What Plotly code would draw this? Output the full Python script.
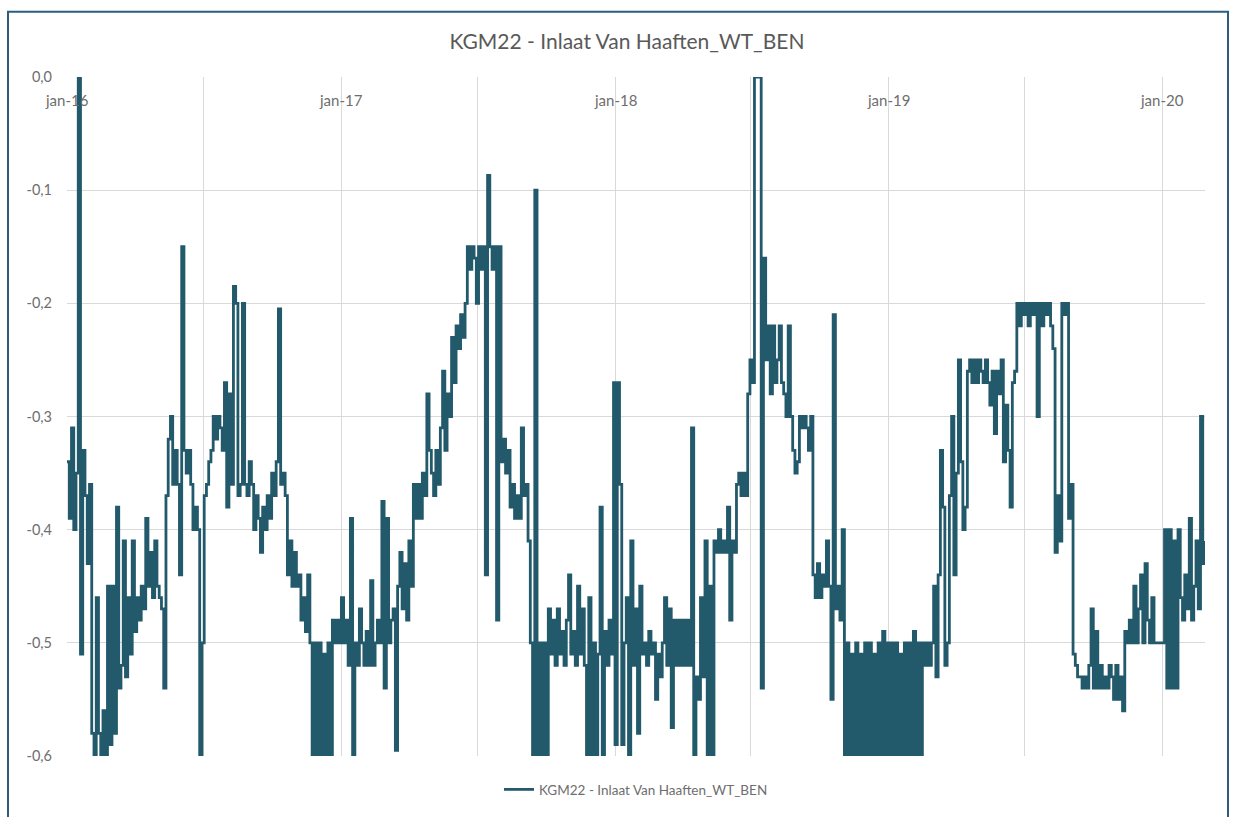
import pandas as pd
import plotly.graph_objects as go

# Water level readings (m), one value every 3 days, starting 1 January of each year
vals_2016 = [
    -0.34, -0.39, -0.31, -0.40, -0.35, 0.0, -0.51, -0.33, -0.37, -0.43,
    -0.36, -0.58, -0.60, -0.46, -0.58, -0.60, -0.56, -0.60, -0.45, -0.59,
    -0.45, -0.58, -0.38, -0.54, -0.52, -0.41, -0.53, -0.46, -0.51, -0.41,
    -0.49, -0.46, -0.48, -0.45, -0.47, -0.39, -0.45, -0.42, -0.46, -0.41,
    -0.45, -0.46, -0.47, -0.54, -0.37, -0.32, -0.30, -0.36, -0.33, -0.36,
    -0.44, -0.15, -0.33, -0.35, -0.33, -0.36, -0.40, -0.38, -0.40, -0.60,
    -0.50, -0.37, -0.36, -0.34, -0.33, -0.30, -0.32, -0.30, -0.31, -0.33,
    -0.27, -0.38, -0.28, -0.36, -0.185, -0.20, -0.37, -0.36, -0.20, -0.36,
    -0.37, -0.34, -0.36, -0.40, -0.37, -0.39, -0.42, -0.38, -0.40, -0.37,
    -0.39, -0.35, -0.37, -0.34, -0.205, -0.36, -0.35, -0.37, -0.44, -0.41,
    -0.45, -0.42, -0.45, -0.44, -0.48, -0.46, -0.49, -0.44, -0.50, -0.60,
    -0.50, -0.60, -0.50, -0.60, -0.51, -0.60, -0.50, -0.60, -0.48, -0.50,
    -0.48, -0.50,
]
vals_2017 = [
    -0.46, -0.50, -0.48, -0.52, -0.39, -0.60, -0.50, -0.52, -0.47, -0.50,
    -0.52, -0.49, -0.52, -0.445, -0.52, -0.50, -0.48, -0.50, -0.375, -0.54,
    -0.39, -0.50, -0.48, -0.47, -0.595, -0.45, -0.42, -0.47, -0.43, -0.48,
    -0.41, -0.45, -0.36, -0.39, -0.36, -0.39, -0.35, -0.37, -0.28, -0.33,
    -0.35, -0.37, -0.33, -0.36, -0.31, -0.26, -0.33, -0.28, -0.30, -0.23,
    -0.27, -0.22, -0.24, -0.21, -0.23, -0.20, -0.15, -0.17, -0.15, -0.16,
    -0.20, -0.15, -0.17, -0.15, -0.44, -0.087, -0.15, -0.17, -0.15, -0.48,
    -0.15, -0.34, -0.32, -0.35, -0.33, -0.38, -0.36, -0.39, -0.37, -0.39,
    -0.31, -0.37, -0.36, -0.41, -0.50, -0.60, -0.10, -0.60, -0.50, -0.60,
    -0.50, -0.60, -0.47, -0.51, -0.48, -0.52, -0.47, -0.51, -0.49, -0.52,
    -0.48, -0.44, -0.51, -0.49, -0.52, -0.45, -0.51, -0.47, -0.52, -0.60,
    -0.46, -0.60, -0.50, -0.60, -0.51, -0.38, -0.60, -0.49, -0.52, -0.48,
    -0.51, -0.27,
]
vals_2018 = [
    -0.59, -0.27, -0.36, -0.59, -0.50, -0.46, -0.60, -0.41, -0.52, -0.47,
    -0.58, -0.45, -0.51, -0.50, -0.52, -0.49, -0.51, -0.50, -0.55, -0.51,
    -0.53, -0.50, -0.46, -0.52, -0.47, -0.575, -0.48, -0.52, -0.48, -0.52,
    -0.48, -0.52, -0.48, -0.52, -0.31, -0.60, -0.53, -0.55, -0.46, -0.53,
    -0.41, -0.60, -0.45, -0.60, -0.41, -0.42, -0.40, -0.42, -0.41, -0.42,
    -0.38, -0.48, -0.41, -0.42, -0.36, -0.35, -0.37, -0.35, -0.37, -0.28,
    -0.25, -0.27, 0.0, 0.0, 0.0, -0.54, -0.16, -0.25, -0.22, -0.28,
    -0.22, -0.27, -0.25, -0.22, -0.27, -0.28, -0.30, -0.22, -0.30, -0.33,
    -0.35, -0.34, -0.30, -0.31, -0.30, -0.31, -0.33, -0.30, -0.44, -0.46,
    -0.43, -0.46, -0.44, -0.45, -0.41, -0.45, -0.55, -0.21, -0.47, -0.45,
    -0.48, -0.40, -0.60, -0.50, -0.60, -0.51, -0.60, -0.50, -0.60, -0.51,
    -0.60, -0.50, -0.60, -0.50, -0.60, -0.51, -0.60, -0.50, -0.60, -0.49,
    -0.60, -0.50,
]
vals_2019 = [
    -0.60, -0.50, -0.60, -0.50, -0.60, -0.51, -0.60, -0.50, -0.60, -0.50,
    -0.60, -0.49, -0.60, -0.50, -0.60, -0.50, -0.52, -0.50, -0.52, -0.50,
    -0.45, -0.53, -0.44, -0.33, -0.38, -0.52, -0.50, -0.37, -0.30, -0.44,
    -0.35, -0.25, -0.34, -0.40, -0.38, -0.26, -0.25, -0.27, -0.25, -0.27,
    -0.25, -0.26, -0.27, -0.25, -0.27, -0.29, -0.26, -0.315, -0.26, -0.28,
    -0.25, -0.34, -0.29, -0.33, -0.38, -0.27, -0.26, -0.20, -0.22, -0.20,
    -0.21, -0.20, -0.22, -0.20, -0.21, -0.20, -0.30, -0.20, -0.22, -0.20,
    -0.21, -0.20, -0.22, -0.24, -0.42, -0.37, -0.41, -0.20, -0.21, -0.20,
    -0.39, -0.36, -0.51, -0.52, -0.53, -0.53, -0.54, -0.53, -0.54, -0.52,
    -0.47, -0.54, -0.49, -0.54, -0.52, -0.54, -0.53, -0.54, -0.52, -0.53,
    -0.55, -0.52, -0.55, -0.53, -0.56, -0.49, -0.50, -0.48, -0.50, -0.45,
    -0.50, -0.47, -0.44, -0.50, -0.43, -0.48, -0.50, -0.46, -0.50, -0.50,
    -0.50, -0.50,
]
vals_2020 = [
    -0.50, -0.40, -0.54, -0.40, -0.54, -0.41, -0.54, -0.40, -0.46, -0.48,
    -0.44, -0.47, -0.39, -0.48, -0.45, -0.41, -0.47, -0.30, -0.43, -0.41,
]

series_by_year = {
    2016: vals_2016,
    2017: vals_2017,
    2018: vals_2018,
    2019: vals_2019,
    2020: vals_2020,
}

series_name = "KGM22 - Inlaat Van Haaften_WT_BEN"

# Axis ticks
x_tick_dates = ["2016-01-01", "2017-01-01", "2018-01-01", "2019-01-01", "2020-01-01"]
x_tick_labels = ["jan-16", "jan-17", "jan-18", "jan-19", "jan-20"]
x_mid_dates = ["2016-07-01", "2017-07-01", "2018-07-01", "2019-07-01"]
y_ticks = [0.0, -0.1, -0.2, -0.3, -0.4, -0.5, -0.6]
y_tick_labels = ["0,0", "-0,1", "-0,2", "-0,3", "-0,4", "-0,5", "-0,6"]

dates = []
values = []
for year, vals in series_by_year.items():
    dates.extend(pd.date_range(f"{year}-01-01", periods=len(vals), freq="3D"))
    values.extend(vals)

line_color = "#22596b"
grid_color = "#d9d9d9"
title_color = "#595959"
label_color = "#6e6e6e"
font_family = "Lato, 'Open Sans', sans-serif"

fig = go.Figure()
fig.add_trace(go.Scatter(
    x=dates, y=values, mode="lines", name=series_name,
    line=dict(color=line_color, width=2.8, shape="hv"),
))

W, H = 1238, 817
L, R, T, B = 67, 33, 77, 53
pw, ph = W - L - R, H - T - B

def px_x(x):
    return (x - L) / pw

def px_y(y):
    return (H - B - y) / ph

# Month labels sit just under the top edge of the plot, one per January
x_label_annotations = [
    dict(x=d, xref="x", y=px_y(100), yref="paper", text=t, showarrow=False,
         xanchor="center", yanchor="middle",
         font=dict(size=15, color=label_color, family=font_family))
    for d, t in zip(x_tick_dates, x_tick_labels)
]

fig.update_layout(
    width=W, height=H,
    margin=dict(l=L, r=R, t=T, b=B),
    paper_bgcolor="white", plot_bgcolor="white",
    font=dict(family=font_family, color=label_color),
    title=dict(
        text=series_name, x=px_x(627), xref="paper", xanchor="center",
        y=1 - 42 / H, yanchor="middle",
        font=dict(size=21, color=title_color, family=font_family),
    ),
    showlegend=True,
    legend=dict(
        orientation="h", x=0.5, xanchor="center", y=px_y(798), yanchor="middle",
        font=dict(size=13.5, color=label_color), bgcolor="rgba(0,0,0,0)",
    ),
    xaxis=dict(
        type="date", range=["2016-01-01", "2020-02-27"],
        tickmode="array", tickvals=x_tick_dates, showticklabels=False,
        ticks="",
        showgrid=True, gridcolor=grid_color, gridwidth=1,
        minor=dict(tickmode="array", tickvals=x_mid_dates, showgrid=True,
                   gridcolor=grid_color, gridwidth=1, ticks=""),
        showline=False, zeroline=False,
    ),
    yaxis=dict(
        range=[-0.6, 0.0],
        tickmode="array", tickvals=y_ticks, ticktext=y_tick_labels,
        showgrid=True, gridcolor=grid_color, gridwidth=1,
        zeroline=False, showline=False, ticks="",
        tickfont=dict(size=14.5, color=label_color), ticklabelstandoff=14,
    ),
    annotations=x_label_annotations,
    shapes=[
        dict(type="rect", xref="paper", yref="paper",
             x0=px_x(8), x1=px_x(1228), y0=px_y(840), y1=px_y(11),
             line=dict(color="#2c5d80", width=2), fillcolor="rgba(0,0,0,0)",
             layer="below"),
    ],
)

fig.write_html("out.html")
